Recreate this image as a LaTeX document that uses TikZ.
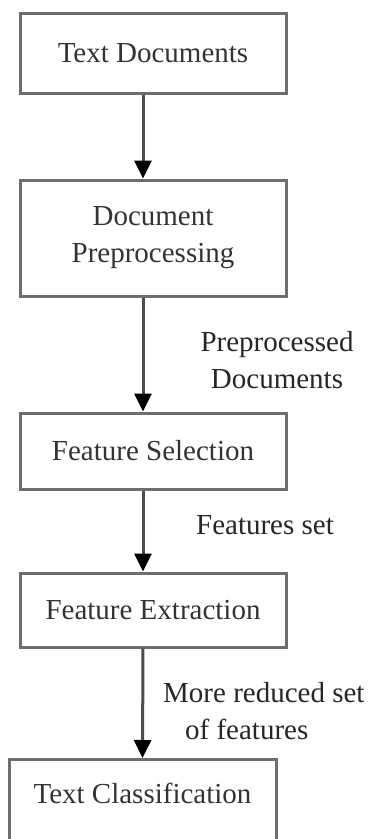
\documentclass[tikz,border=0pt]{standalone}
\usepackage{fontspec}
\setmainfont{Liberation Serif}
\usetikzlibrary{arrows.meta}
\definecolor{boxgray}{HTML}{6E6E6E}
\begin{document}
\begin{tikzpicture}[x=1pt,y=-1pt,
		every node/.style={font=\fontsize{29}{37}\selectfont},
		boite/.style={draw=boxgray,line width=3pt,text=black!80,minimum width=266pt,align=center,inner sep=0pt},
		fleche/.style={draw=black!70,line width=3pt,-{Triangle[width=17pt,length=18pt,color=black]}},
		etiquette/.style={align=center,text=black!85,inner sep=0pt}]
	\useasboundingbox (0,0) rectangle (368,839);
	%boîtes
	\node[boite,minimum height=80pt] (txtdoc) at (153,53) {Text Documents};
	\node[boite,minimum height=116pt] (preproc) at (153,238) {Document\\Preprocessing};
	\node[boite,minimum height=76pt] (selec) at (153,451) {Feature Selection};
	\node[boite,minimum height=74pt] (extrac) at (153,610) {Feature Extraction};
	\node[boite,anchor=north,minimum width=267pt,text height=44pt,text depth=60pt] (classif) at (142.5,758) {Text Classification};
	%flèches
	\draw[fleche] ([xshift=-10pt]txtdoc.south) -- ([xshift=-10pt]preproc.north);
	\draw[fleche] ([xshift=-10pt]preproc.south) -- ([xshift=-10pt]selec.north);
	\draw[fleche] ([xshift=-10pt]selec.south) -- ([xshift=-10pt]extrac.north);
	\draw[fleche] ([xshift=-10pt]extrac.south) -- (classif.north);
	%étiquettes
	\node[etiquette] (lblpre) at (277,360) {Preprocessed\\Documents};
	\node[etiquette] (lblfeat) at (265,525) {Features set};
	\node[etiquette,anchor=west,align=left] (lblred) at (163,711) {More reduced set\\\hspace*{22pt}of features};
\end{tikzpicture}
\end{document}
